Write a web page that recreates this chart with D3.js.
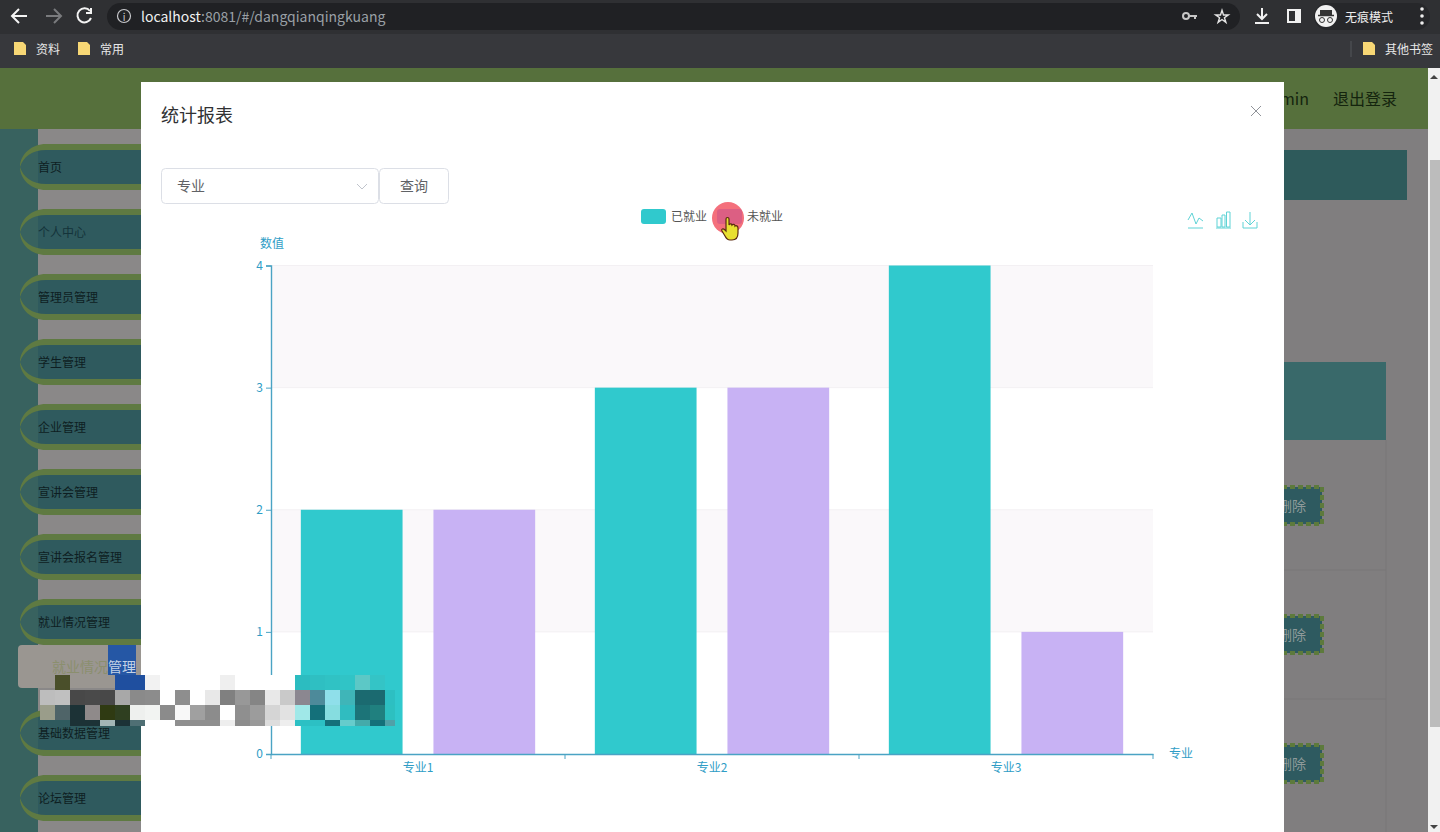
<!DOCTYPE html>
<html>
<head>
<meta charset="utf-8">
<script src="https://cdn.jsdelivr.net/npm/d3@7"></script>
<style>
  html, body { margin: 0; padding: 0; background: #808080; overflow: hidden; }
  svg { display: block; }
  text { font-family: "Noto Sans CJK SC", "Noto Sans", sans-serif; }
</style>
</head>
<body>
<script>
const categories = ["专业1", "专业2", "专业3"];
const seriesNames = ["已就业", "未就业"];
const employed = [2, 3, 4];
const unemployed = [2, 3, 1];
const yTicks = [0, 1, 2, 3, 4];

const sideItems = ["首页", "个人中心", "管理员管理", "学生管理", "企业管理", "宣讲会管理", "宣讲会报名管理", "就业情况管理", "基础数据管理", "论坛管理"];
const sideCenters = [167, 232, 297, 362, 427, 492, 557, 622, 733, 798];

const axisColor = "#4aa3c4";
const labelColor = "#2f9dc6";
const barColors = ["#30c9cd", "#c8b2f4"];

const width = 1440;
const height = 832;
const plot = { left: 271, right: 1153, top: 265.5, bottom: 754 };

const svg = d3.select("body").append("svg")
    .attr("width", width)
    .attr("height", height);

function box(x, y, w, h, fill, r) {
    return svg.append("rect").attr("x", x).attr("y", y).attr("width", w).attr("height", h)
        .attr("fill", fill).attr("rx", r || 0);
}
// central baseline sits a pixel low for this font, hence the -1
function label(x, y, str, size, fill, anchor) {
    return svg.append("text").attr("x", x).attr("y", y - 1).text(str)
        .attr("font-size", size).attr("fill", fill)
        .attr("text-anchor", anchor || "start")
        .attr("dominant-baseline", "central");
}
function stroke(d, color, w) {
    return svg.append("path").attr("d", d).attr("fill", "none")
        .attr("stroke", color).attr("stroke-width", w || 1);
}

// page behind the dialog
box(0, 68, 1428, 764, "#807e7f");
box(0, 68, 1428, 61, "#56703c");
box(0, 129, 38, 703, "#38625f");
box(38, 129, 1246, 703, "#8a8888");
sideCenters.forEach((c, i) => {
    box(38, c - 17, 110, 34, "#2f5a5e");
    svg.append("path")
        .attr("d", `M20 ${c} C20 ${c - 13} 32 ${c - 23} 46 ${c - 23} H148 V${c - 17} H46 C32 ${c - 17} 23 ${c - 10} 20 ${c} Z`)
        .attr("fill", "#5f7a42");
    svg.append("path")
        .attr("d", `M20 ${c} C20 ${c + 13} 32 ${c + 23} 46 ${c + 23} H148 V${c + 17} H46 C32 ${c + 17} 23 ${c + 10} 20 ${c} Z`)
        .attr("fill", "#5f7a42");
    label(38, c, sideItems[i], 12, i == 1 ? "#14333a" : "#0e1e22");
});
box(18, 645, 130, 43, "#9a9691", 4);
label(52, 667, "就业情况", 14, "#8b8f6e");

box(1284, 150, 123, 50, "#2e5a5b");
box(1284, 362, 102, 78, "#39696a");
stroke("M1284 570H1386M1284 699H1386M1386 440V832", "#797778");
[505, 634, 763].forEach(c => {
    svg.append("rect").attr("x", 1282).attr("y", c - 18).attr("width", 40).attr("height", 37)
        .attr("fill", "#2e5a60").attr("stroke", "#5d7a3c").attr("stroke-width", 4).attr("stroke-dasharray", "5 3");
    label(1278, c + 1, "删除", 14, "#8f9a9a");
});
label(1309, 99, "admin", 16, "#14240e", "end");
label(1333, 99, "退出登录", 16, "#14240e");

// scrollbar
box(1428, 68, 12, 764, "#f1f1f1");
box(1430, 160, 10, 567, "#bcbcbc");
svg.append("path").attr("d", "M1434 75l4 4h-8zM1434 829l4-4h-8z").attr("fill", "#444");

// browser bars
box(0, 0, 1440, 34, "#2f3033");
box(0, 34, 1440, 34, "#37383c");
box(107, 3, 1133, 27, "#202124", 13.5);
stroke("M27 16H13M19 9l-7 7 7 7", "#f4f4f4", 2);
stroke("M46 16H60M54 9l7 7-7 7", "#7a7b7e", 2);
stroke("M90 11a7 7 0 1 0 1 7M91 8v5h-5", "#f4f4f4", 2);
svg.append("circle").attr("cx", 124).attr("cy", 16).attr("r", 6.5).attr("fill", "none").attr("stroke", "#c8c9cc").attr("stroke-width", 1.2);
label(124, 17, "i", 10, "#c8c9cc", "middle");
const urlText = label(141, 17, "localhost", 14, "#f1f1f1");
urlText.append("tspan").attr("fill", "#9aa0a6").text(":8081/#/dangqianqingkuang");
svg.append("circle").attr("cx", 1186).attr("cy", 16).attr("r", 3).attr("fill", "none").attr("stroke", "#c6c6c6").attr("stroke-width", 2);
stroke("M1189 16H1197M1195 16v3", "#c6c6c6", 2);
svg.append("path").attr("d", d3.symbol(d3.symbolStar, 50)()).attr("transform", "translate(1222,17)")
    .attr("fill", "none").attr("stroke", "#e4e4e4").attr("stroke-width", 1.4);
stroke("M1262 8V19M1257 14l5 5 5-5M1255 23H1269", "#f1f1f1", 2);
svg.append("rect").attr("x", 1288).attr("y", 10).attr("width", 12).attr("height", 12).attr("fill", "none").attr("stroke", "#f1f1f1").attr("stroke-width", 2);
box(1295, 10, 6, 12, "#f1f1f1");
box(1314, 3, 116, 27, "#26272a", 13.5);
svg.append("circle").attr("cx", 1326).attr("cy", 16).attr("r", 11).attr("fill", "#f1f1f1");
box(1320, 10, 12, 5, "#333");
stroke("M1318 15.5H1334", "#333", 1.5);
svg.append("circle").attr("cx", 1322).attr("cy", 20).attr("r", 2.5).attr("fill", "none").attr("stroke", "#333");
svg.append("circle").attr("cx", 1330).attr("cy", 20).attr("r", 2.5).attr("fill", "none").attr("stroke", "#333");
label(1345, 17, "无痕模式", 12, "#eeeeee");
[9, 16, 23].forEach(y => svg.append("circle").attr("cx", 1422).attr("cy", y).attr("r", 1.8).attr("fill", "#eeeeee"));
[[14, "资料", 36], [78, "常用", 100], [1363, "其他书签", 1385]].forEach(d => {
    svg.append("path").attr("d", `M${d[0]} 42h9l3 3v10h-12z`).attr("fill", "#f7d775");
    label(d[2], 49, d[1], 12, "#e8e8e8");
});
stroke("M1351 41V57", "#55565a");

// dialog
box(141, 82, 1143, 750, "#ffffff");
label(161, 115, "统计报表", 18, "#303133");
stroke("M1251 106L1261 116M1261 106L1251 116", "#909399");
svg.append("rect").attr("x", 161.5).attr("y", 168.5).attr("width", 217).attr("height", 35)
    .attr("rx", 4).attr("fill", "#fff").attr("stroke", "#dcdfe6");
label(177, 186, "专业", 14, "#606266");
stroke("M357 184L362 189L367 184", "#c0c4cc");
svg.append("rect").attr("x", 379.5).attr("y", 168.5).attr("width", 69).attr("height", 35)
    .attr("rx", 4).attr("fill", "#fff").attr("stroke", "#dcdfe6");
label(414, 186, "查询", 14, "#606266", "middle");

// chart
const x0 = d3.scaleBand().domain(categories).range([plot.left, plot.right]);
const x1 = d3.scaleBand().domain(seriesNames).range([0, x0.bandwidth()])
    .paddingInner(0.233).paddingOuter(0.225);
const y = d3.scaleLinear().domain([0, d3.max(yTicks)]).range([plot.bottom, plot.top]);

// alternating bands behind the bars
svg.append("g").selectAll("rect")
    .data(yTicks.slice(0, -1))
    .enter().append("rect")
    .attr("x", plot.left)
    .attr("y", d => y(d + 1))
    .attr("width", plot.right - plot.left)
    .attr("height", d => y(d) - y(d + 1))
    .attr("fill", d => d % 2 ? "#faf8fa" : "#ffffff");
svg.append("g").selectAll("line")
    .data(yTicks.slice(1))
    .enter().append("line")
    .attr("x1", plot.left).attr("x2", plot.right)
    .attr("y1", d => y(d)).attr("y2", d => y(d))
    .attr("stroke", "#f3f0f3");

[employed, unemployed].forEach((values, s) => {
    svg.append("g").selectAll("rect")
        .data(values)
        .enter().append("rect")
        .attr("x", (d, i) => x0(categories[i]) + x1(seriesNames[s]))
        .attr("y", d => y(d))
        .attr("width", x1.bandwidth())
        .attr("height", d => y(0) - y(d))
        .attr("fill", barColors[s]);
});

const yAxis = svg.append("g")
    .attr("transform", `translate(${plot.left},0)`)
    .call(d3.axisLeft(y).tickValues(yTicks).tickFormat(d3.format("d")).tickSize(5).tickPadding(3));
const xAxis = svg.append("g")
    .attr("transform", `translate(0,${plot.bottom})`)
    .call(d3.axisBottom(x0).tickSize(0).tickPadding(9));
xAxis.selectAll("g.edge")
    .data(categories.map(c => x0(c)).concat(plot.right))
    .enter().append("line")
    .attr("x1", d => d).attr("x2", d => d)
    .attr("y1", 0).attr("y2", 5)
    .attr("stroke", axisColor);
[yAxis, xAxis].forEach(a => {
    a.select(".domain").attr("stroke", axisColor).attr("stroke-width", 1.4);
    a.selectAll(".tick line").attr("stroke", axisColor);
    a.selectAll("text").attr("fill", labelColor).attr("font-size", 12)
        .attr("font-family", '"Noto Sans CJK SC", "Noto Sans", sans-serif');
});
label(272, 243, "数值", 12, labelColor, "middle");
label(1181, 753, "专业", 12, labelColor, "middle");

// legend, with the pointer highlight over the second swatch
box(641, 209, 25, 15, barColors[0], 3);
label(671, 216, seriesNames[0], 12, "#555555");
label(747, 216, seriesNames[1], 12, "#555555");
svg.append("circle").attr("cx", 728).attr("cy", 218).attr("r", 16).attr("fill", "#f4707c");
box(717, 209, 25, 15, "#dc5f83", 3);
svg.append("path")
    .attr("d", "M726 219c0-2 3-2 3 0v6c1-2 3-1 3 0c1-1 3-1 3 1c1-1 3 0 3 2v5c0 4-2 7-6 7h-2c-3 0-4-2-5-4l-3-5c-1-2 1-3 3-1l1 1z")
    .attr("fill", "#e8e030").attr("stroke", "#5a2a10").attr("stroke-width", 1.2);

// toolbox icons
const iconColor = "#5fd3d6";
stroke("M1188 220L1192 213L1196 224L1199 218L1203 221M1188 228H1203", iconColor);
stroke("M1217 218h4v9h-4zM1222 215h3v12h-3zM1226.5 212h3.5v15h-3.5zM1216 228H1231", iconColor);
stroke("M1250 212V225M1245 220L1250 225L1255 220M1243 222V228H1257V222", iconColor);

// pixelated patch covering the pop-up message
const mosaicRows = [
    [null, "#4a4f2a", null, null, null, "#1f4f9f", "#1f4f9f", "#f2f2f2", "#ffffff", "#ffffff", "#ffffff", "#ffffff", "#efefef", "#ffffff", "#ffffff", "#ffffff", "#ffffff", "#2cbcc0", "#2fbfc2", "#30c2c4", "#30c4c6", "#5cc8c6", "#34c4c6", null],
    ["#bdbdbd", "#c0c0c0", "#484848", "#4a4a4a", "#484848", "#a8a8a8", "#8a8a8a", "#8c8c8c", "#ffffff", "#8e8e8e", "#ffffff", "#e8e8e8", "#808080", "#989898", "#858585", "#e8e8e8", "#c9c9c9", "#8b8790", "#4d8a9a", "#8fdfea", "#3fb5b8", "#1b6a70", "#1b6a70", "#2dbfc2"],
    ["#9a9d8a", "#4f6468", "#1c3236", "#8f8a8a", "#2f3a12", "#2f3f20", "#eef0ee", "#f2f4f2", "#8b8b8b", "#f8f8f8", "#a0a0a0", "#8c8c8c", "#ffffff", "#8f8f8f", "#9c9c9c", "#d5d5d5", "#e2e2e2", "#a0e8e8", "#14707a", "#86dde0", "#30bcc0", "#1c7478", "#20807f", "#2dc0c0"],
    [null, null, "#1c3236", "#1c3236", "#a2b6b6", "#1c3236", "#4f6f74", "#ffffff", "#ffffff", "#8f8f8f", "#8f8f8f", "#8f8f8f", "#eeeeee", "#8c8c8c", "#999999", "#dddddd", "#eeeeee", "#2cc0c4", "#2cc0c4", "#14707a", "#66cccc", "#44aaaa", "#14707a", "#50a0a8"]
];
box(108, 645, 28, 30, "#2557a5");
label(108, 667, "管理", 14, "#c4d2e6");
mosaicRows.forEach((row, r) => {
    row.forEach((c, i) => {
        if (c) box(40 + i * 15, 675 + r * 15, i == 23 ? 10 : 15, r == 3 ? 6 : 15, c);
    });
});
</script>
</body>
</html>
